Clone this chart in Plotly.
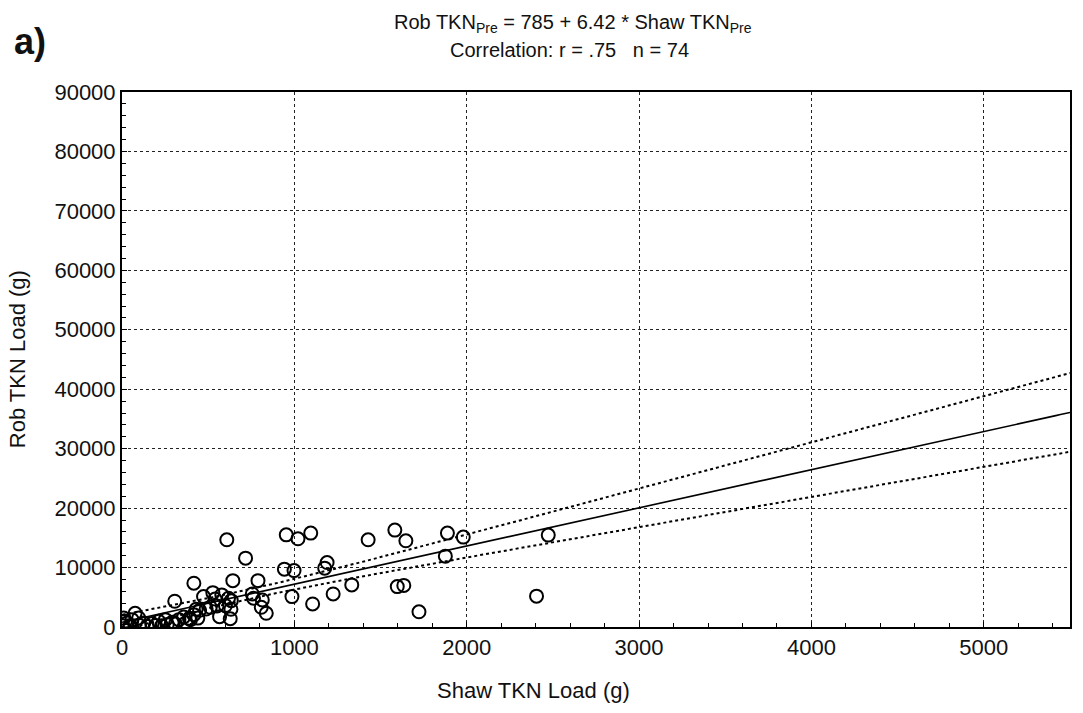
import numpy as np
import plotly.graph_objects as go

# Data (Shaw TKN load vs Rob TKN load, grams)
shaw_tkn = [608, 717, 953, 1021, 1095, 1190, 1176, 942, 998, 417,
            643, 789, 1333, 1225, 1106, 986, 306, 756, 763, 814,
            808, 837, 473, 527, 579, 634, 632, 628, 566, 551,
            512, 430, 391, 76, 1428, 1583, 1647, 1888, 1980, 1876,
            2473, 1597, 1635, 1723, 2405, 618, 29, 58, 97, 48,
            126, 174, 213, 252, 291, 330, 358, 397, 417, 450,
            488, 145, 194, 262, 10, 5, 100, 230, 310, 370,
            540, 600, 20, 440]
rob_tkn = [14670, 11580, 15500, 14840, 15800, 10840, 9900, 9730, 9490, 7370,
           7800, 7800, 7080, 5560, 3880, 5110, 4330, 5560, 4840, 4550,
           3320, 2310, 5110, 5780, 5400, 4430, 2980, 1400, 1740, 3540,
           3320, 2980, 1460, 2310, 14670, 16300, 14500, 15800, 15120, 11920,
           15460, 6800, 7000, 2560, 5190, 4840, 680, 1240, 1520, 240,
           680, 570, 960, 1240, 790, 1240, 1690, 1240, 2080, 2810,
           3030, 120, 240, 400, 1520, 200, 300, 200, 500, 700,
           4700, 3600, 1000, 1500]

intercept = 785.0
slope = 6.42
x_ticks = [0, 1000, 2000, 3000, 4000, 5000]
y_ticks = [0, 10000, 20000, 30000, 40000, 50000, 60000, 70000, 80000, 90000]

x = np.array(shaw_tkn, dtype=float)
y = np.array(rob_tkn, dtype=float)
n = len(x)
xbar = x.mean()
sxx = ((x - xbar) ** 2).sum()
resid = y - (intercept + slope * x)
s = np.sqrt((resid ** 2).sum() / (n - 2))
t_crit = 1.993

xl = np.linspace(0, 5500, 200)
yfit = intercept + slope * xl
half = t_crit * s * np.sqrt(1.0 / n + (xl - xbar) ** 2 / sxx)

FONT = "Liberation Sans, Arial, sans-serif"
TXT = "#111"

fig = go.Figure()
fig.add_trace(go.Scatter(x=xl, y=yfit + half, mode="lines",
                         line=dict(color="black", width=2, dash="dot"),
                         hoverinfo="skip", showlegend=False))
fig.add_trace(go.Scatter(x=xl, y=yfit - half, mode="lines",
                         line=dict(color="black", width=2, dash="dot"),
                         hoverinfo="skip", showlegend=False))
fig.add_trace(go.Scatter(x=xl, y=yfit, mode="lines",
                         line=dict(color="black", width=1.6),
                         hoverinfo="skip", showlegend=False))
fig.add_trace(go.Scatter(x=shaw_tkn, y=rob_tkn, mode="markers",
                         marker=dict(symbol="circle-open", size=13,
                                     color="black", line=dict(width=2)),
                         showlegend=False))

axis_common = dict(
    showline=True, linecolor="black", linewidth=2, mirror=True,
    ticks="inside", ticklen=5, tickcolor="black",
    showgrid=True, gridcolor="#222", griddash="dot", gridwidth=1,
    zeroline=False,
    tickfont=dict(family=FONT, size=22, color=TXT),
    minor=dict(ticks="inside", ticklen=4, tickcolor="black", showgrid=False),
)

fig.update_xaxes(range=[0, 5500], tickvals=x_ticks,
                 ticktext=[str(v) for v in x_ticks], **axis_common)
fig.update_xaxes(minor_dtick=200, minor_tick0=0)
fig.update_yaxes(range=[0, 90000], tickvals=y_ticks,
                 ticktext=[str(v) for v in y_ticks], **axis_common)
fig.update_yaxes(minor_dtick=2000, minor_tick0=0)

fig.update_layout(
    width=1083, height=713,
    margin=dict(l=122, r=13, t=92, b=86),
    paper_bgcolor="white", plot_bgcolor="white",
    font=dict(family=FONT, color=TXT),
    annotations=[
        dict(text="<b>a)</b>", x=-0.116, y=1.094, xref="paper", yref="paper",
             xanchor="left", yanchor="middle",
             showarrow=False, font=dict(family=FONT, size=36, color=TXT)),
        dict(text="Rob TKN<sub>Pre</sub> = 785 + 6.42 * Shaw TKN<sub>Pre</sub>",
             x=0.476, y=1.128, xref="paper", yref="paper",
             xanchor="center", yanchor="middle",
             showarrow=False, font=dict(family=FONT, size=20, color=TXT)),
        dict(text="Correlation: r = .75   n = 74",
             x=0.472, y=1.078, xref="paper", yref="paper",
             xanchor="center", yanchor="middle",
             showarrow=False, font=dict(family=FONT, size=20, color=TXT)),
        dict(text="Shaw TKN Load (g)", x=0.434, y=-0.118,
             xref="paper", yref="paper", xanchor="center", yanchor="middle",
             showarrow=False, font=dict(family=FONT, size=22, color=TXT)),
        dict(text="Rob TKN Load (g)", x=-0.11, y=0.5, textangle=-90,
             xref="paper", yref="paper", xanchor="center", yanchor="middle",
             showarrow=False, font=dict(family=FONT, size=22, color=TXT)),
    ],
)

fig.write_html("out.html")
